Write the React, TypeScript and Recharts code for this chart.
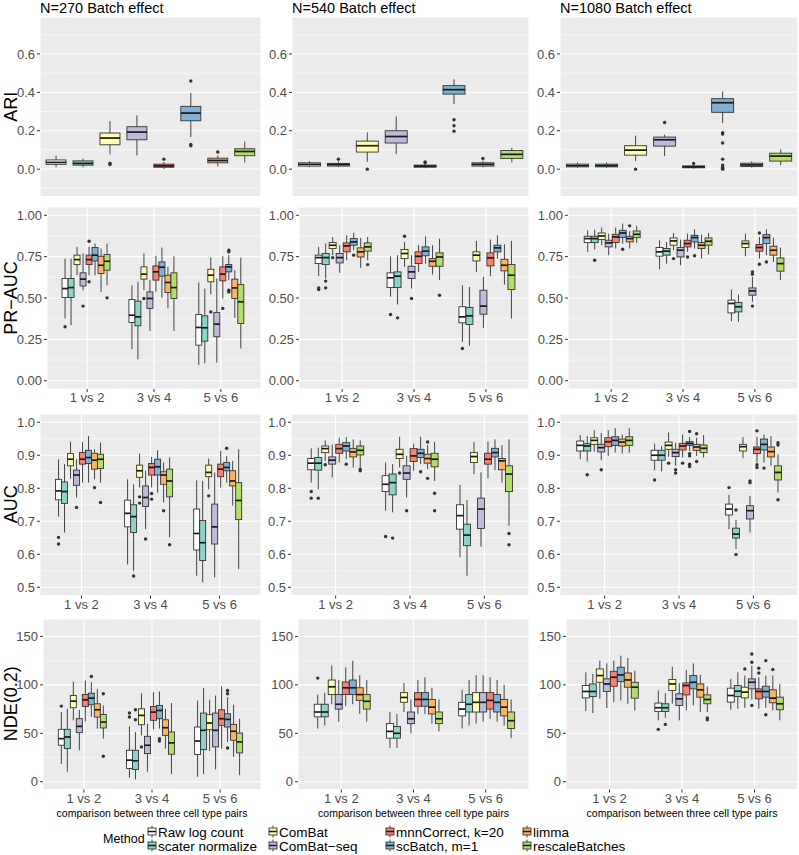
import React from 'react';
import { ComposedChart, Bar, XAxis, YAxis, CartesianGrid } from 'recharts';

type Box = [number, number, number, number, number, number[]];

const FONT = '"Liberation Sans", Arial, Helvetica, sans-serif';

const METHODS = ['Raw log count', 'scater normalize', 'ComBat', 'ComBat\u2212seq', 'mnnCorrect, k=20', 'scBatch, m=1', 'limma', 'rescaleBatches'];
const COLORS = ['#FFFFFF', '#8DD3C7', '#FFFFB3', '#BEBADA', '#FB8072', '#80B1D3', '#FDB462', '#B3DE69'];
const PAIRS = ['1 vs 2', '3 vs 4', '5 vs 6'];
const COLUMN_TITLES = ['N=270 Batch effect', 'N=540 Batch effect', 'N=1080 Batch effect'];
const X_TITLE = 'comparison between three cell type pairs';
const LEGEND_TITLE = 'Method';

const ARI_TICKS = [0, 0.2, 0.4, 0.6];
const ARI_TICK_LABELS = ['0.0', '0.2', '0.4', '0.6'];
const ARI_MINOR = [-0.1, 0.1, 0.3, 0.5, 0.7];
const PRAUC_TICKS = [0, 0.25, 0.5, 0.75, 1];
const PRAUC_TICK_LABELS = ['0.00', '0.25', '0.50', '0.75', '1.00'];
const PRAUC_MINOR = [0.125, 0.375, 0.625, 0.875];
const AUC_TICKS = [0.5, 0.6, 0.7, 0.8, 0.9, 1.0];
const AUC_TICK_LABELS = ['0.5', '0.6', '0.7', '0.8', '0.9', '1.0'];
const AUC_MINOR = [0.55, 0.65, 0.75, 0.85, 0.95];
const NDE_TICKS = [0, 50, 100, 150];
const NDE_TICK_LABELS = ['0', '50', '100', '150'];
const NDE_MINOR = [25, 75, 125];

// [lower whisker, Q1, median, Q3, upper whisker, outliers]
const ARI_270: Box[] = [
  [0.01, 0.025, 0.035, 0.048, 0.07, []],
  [0.01, 0.021, 0.03, 0.043, 0.055, []],
  [0.077, 0.127, 0.162, 0.188, 0.25, [0.031, 0.024]],
  [0.071, 0.153, 0.193, 0.221, 0.28, []],
  [0.0, 0.01, 0.017, 0.026, 0.037, [0.052]],
  [0.167, 0.252, 0.292, 0.327, 0.397, [0.459, 0.129, 0.122]],
  [0.014, 0.033, 0.045, 0.057, 0.071, [0.089]],
  [0.035, 0.07, 0.092, 0.106, 0.144, []],
];
const ARI_540: Box[] = [
  [0.01, 0.016, 0.025, 0.033, 0.042, []],
  [0.012, 0.016, 0.024, 0.03, 0.04, [0.052]],
  [0.038, 0.089, 0.122, 0.146, 0.191, [0.0]],
  [0.078, 0.136, 0.17, 0.2, 0.275, []],
  [0.005, 0.01, 0.016, 0.021, 0.03, [0.038, 0.033]],
  [0.339, 0.391, 0.414, 0.435, 0.468, [0.257, 0.226, 0.198]],
  [0.01, 0.016, 0.025, 0.033, 0.045, [0.056]],
  [0.035, 0.056, 0.077, 0.097, 0.111, []],
];
const ARI_1080: Box[] = [
  [0.008, 0.012, 0.018, 0.026, 0.035, []],
  [0.008, 0.012, 0.018, 0.026, 0.035, []],
  [0.042, 0.073, 0.099, 0.122, 0.174, [0.0]],
  [0.068, 0.12, 0.153, 0.167, 0.18, [0.243]],
  [0.003, 0.007, 0.012, 0.017, 0.022, [0.03]],
  [0.24, 0.296, 0.346, 0.367, 0.405, [0.19, 0.183, 0.136, 0.052, 0.021, 0.01, 0.003, 0.0]],
  [0.008, 0.014, 0.022, 0.031, 0.04, []],
  [0.021, 0.042, 0.068, 0.083, 0.104, []],
];

const PRAUC_270: Box[][] = [
  [
    [0.376, 0.503, 0.557, 0.618, 0.738, [0.326]],
    [0.336, 0.503, 0.563, 0.618, 0.738, []],
    [0.638, 0.702, 0.732, 0.759, 0.809, []],
    [0.547, 0.573, 0.614, 0.652, 0.769, [0.451]],
    [0.638, 0.702, 0.732, 0.759, 0.809, [0.843, 0.598]],
    [0.638, 0.724, 0.759, 0.805, 0.829, []],
    [0.537, 0.648, 0.698, 0.752, 0.799, []],
    [0.577, 0.668, 0.722, 0.763, 0.829, [0.501]],
  ],
  [
    [0.191, 0.352, 0.396, 0.491, 0.577, []],
    [0.129, 0.332, 0.386, 0.481, 0.598, []],
    [0.547, 0.614, 0.644, 0.688, 0.769, [0.497]],
    [0.3, 0.437, 0.497, 0.537, 0.608, []],
    [0.537, 0.608, 0.658, 0.694, 0.755, []],
    [0.501, 0.632, 0.686, 0.718, 0.805, []],
    [0.437, 0.533, 0.594, 0.638, 0.688, []],
    [0.3, 0.497, 0.563, 0.652, 0.752, []],
  ],
  [
    [0.095, 0.215, 0.322, 0.4, 0.594, []],
    [0.105, 0.239, 0.32, 0.392, 0.557, []],
    [0.523, 0.598, 0.638, 0.674, 0.744, [0.416]],
    [0.109, 0.266, 0.342, 0.412, 0.618, []],
    [0.497, 0.604, 0.644, 0.688, 0.752, [0.437]],
    [0.608, 0.658, 0.688, 0.702, 0.759, [0.789, 0.779, 0.547, 0.537]],
    [0.38, 0.497, 0.561, 0.614, 0.668, []],
    [0.195, 0.346, 0.477, 0.581, 0.744, []],
  ],
];
const PRAUC_540: Box[][] = [
  [
    [0.632, 0.708, 0.744, 0.759, 0.809, [0.561, 0.551]],
    [0.618, 0.702, 0.744, 0.769, 0.829, [0.602, 0.561]],
    [0.759, 0.799, 0.819, 0.835, 0.869, [0.744]],
    [0.652, 0.712, 0.744, 0.769, 0.819, []],
    [0.728, 0.779, 0.815, 0.833, 0.879, []],
    [0.789, 0.819, 0.839, 0.859, 0.895, [0.759]],
    [0.682, 0.748, 0.779, 0.803, 0.863, []],
    [0.728, 0.783, 0.809, 0.833, 0.869, [0.702]],
  ],
  [
    [0.507, 0.563, 0.622, 0.652, 0.752, [0.4]],
    [0.461, 0.563, 0.632, 0.658, 0.759, [0.38]],
    [0.688, 0.738, 0.769, 0.793, 0.839, [0.873]],
    [0.557, 0.618, 0.658, 0.692, 0.759, [0.497]],
    [0.658, 0.708, 0.752, 0.779, 0.819, []],
    [0.708, 0.755, 0.783, 0.809, 0.873, []],
    [0.642, 0.692, 0.722, 0.738, 0.819, []],
    [0.608, 0.692, 0.748, 0.773, 0.859, [0.517]],
  ],
  [
    [0.235, 0.35, 0.386, 0.447, 0.577, [0.195]],
    [0.211, 0.34, 0.392, 0.443, 0.567, []],
    [0.658, 0.724, 0.759, 0.779, 0.845, []],
    [0.32, 0.402, 0.451, 0.547, 0.628, []],
    [0.632, 0.694, 0.742, 0.773, 0.853, []],
    [0.738, 0.779, 0.803, 0.819, 0.879, []],
    [0.581, 0.664, 0.698, 0.734, 0.825, []],
    [0.376, 0.551, 0.638, 0.702, 0.845, []],
  ],
];
const PRAUC_1080: Box[][] = [
  [
    [0.779, 0.835, 0.859, 0.873, 0.909, []],
    [0.793, 0.835, 0.859, 0.873, 0.913, [0.728]],
    [0.819, 0.853, 0.875, 0.893, 0.926, []],
    [0.759, 0.809, 0.833, 0.849, 0.889, []],
    [0.799, 0.835, 0.869, 0.885, 0.926, []],
    [0.829, 0.865, 0.893, 0.909, 0.95, [0.795]],
    [0.799, 0.839, 0.859, 0.873, 0.905, [0.936]],
    [0.833, 0.865, 0.885, 0.905, 0.936, []],
  ],
  [
    [0.674, 0.753, 0.779, 0.805, 0.849, []],
    [0.708, 0.759, 0.783, 0.799, 0.839, []],
    [0.789, 0.819, 0.845, 0.863, 0.893, [0.738]],
    [0.698, 0.748, 0.789, 0.805, 0.853, []],
    [0.779, 0.809, 0.829, 0.849, 0.889, [0.748]],
    [0.799, 0.839, 0.865, 0.879, 0.915, [0.755]],
    [0.738, 0.799, 0.819, 0.835, 0.883, []],
    [0.763, 0.819, 0.843, 0.863, 0.893, []],
  ],
  [
    [0.36, 0.41, 0.467, 0.487, 0.551, []],
    [0.356, 0.416, 0.447, 0.473, 0.521, []],
    [0.752, 0.805, 0.829, 0.845, 0.889, []],
    [0.477, 0.517, 0.543, 0.561, 0.628, [0.658, 0.644, 0.451]],
    [0.738, 0.783, 0.805, 0.823, 0.869, [0.893, 0.704]],
    [0.759, 0.829, 0.865, 0.883, 0.915, [0.718]],
    [0.718, 0.759, 0.789, 0.813, 0.865, []],
    [0.608, 0.662, 0.708, 0.742, 0.805, []],
  ],
];

const AUC_270: Box[][] = [
  [
    [0.714, 0.765, 0.792, 0.827, 0.888, [0.651, 0.631]],
    [0.666, 0.754, 0.79, 0.819, 0.873, []],
    [0.829, 0.868, 0.888, 0.905, 0.941, []],
    [0.772, 0.809, 0.84, 0.855, 0.888, [0.742]],
    [0.817, 0.873, 0.888, 0.908, 0.94, []],
    [0.817, 0.875, 0.893, 0.915, 0.958, []],
    [0.827, 0.858, 0.885, 0.906, 0.918, [0.802]],
    [0.817, 0.86, 0.888, 0.903, 0.938, [0.757]],
  ],
  [
    [0.569, 0.683, 0.724, 0.764, 0.827, []],
    [0.55, 0.666, 0.714, 0.75, 0.812, [0.534]],
    [0.802, 0.833, 0.853, 0.87, 0.905, [0.774, 0.755]],
    [0.676, 0.745, 0.772, 0.807, 0.853, [0.646]],
    [0.802, 0.84, 0.863, 0.875, 0.895, [0.784, 0.767]],
    [0.787, 0.84, 0.865, 0.888, 0.915, []],
    [0.757, 0.812, 0.84, 0.85, 0.878, [0.732]],
    [0.651, 0.774, 0.822, 0.858, 0.893, [0.629]],
  ],
  [
    [0.535, 0.613, 0.663, 0.737, 0.824, []],
    [0.515, 0.581, 0.635, 0.702, 0.822, []],
    [0.797, 0.835, 0.848, 0.87, 0.89, [0.777]],
    [0.53, 0.631, 0.683, 0.752, 0.848, []],
    [0.802, 0.835, 0.858, 0.873, 0.913, []],
    [0.817, 0.853, 0.863, 0.878, 0.898, [0.921]],
    [0.747, 0.807, 0.822, 0.853, 0.883, []],
    [0.555, 0.705, 0.763, 0.817, 0.918, []],
  ],
];
const AUC_540: Box[][] = [
  [
    [0.817, 0.856, 0.876, 0.89, 0.921, [0.79, 0.77]],
    [0.797, 0.855, 0.876, 0.893, 0.923, [0.77]],
    [0.883, 0.908, 0.92, 0.928, 0.945, [0.871]],
    [0.833, 0.873, 0.885, 0.895, 0.933, []],
    [0.878, 0.906, 0.92, 0.933, 0.953, []],
    [0.888, 0.913, 0.928, 0.938, 0.955, [0.873]],
    [0.863, 0.895, 0.91, 0.92, 0.948, []],
    [0.863, 0.901, 0.915, 0.928, 0.945, [0.858, 0.853]],
  ],
  [
    [0.732, 0.79, 0.812, 0.838, 0.878, [0.654]],
    [0.727, 0.78, 0.817, 0.843, 0.873, [0.649]],
    [0.863, 0.89, 0.903, 0.918, 0.956, [0.846]],
    [0.772, 0.827, 0.846, 0.868, 0.898, [0.732]],
    [0.853, 0.881, 0.898, 0.92, 0.935, []],
    [0.873, 0.893, 0.906, 0.918, 0.956, [0.85]],
    [0.858, 0.876, 0.89, 0.903, 0.931, [0.94, 0.83]],
    [0.822, 0.865, 0.888, 0.906, 0.94, [0.785, 0.732]],
  ],
  [
    [0.591, 0.676, 0.717, 0.75, 0.81, []],
    [0.535, 0.626, 0.658, 0.691, 0.764, []],
    [0.843, 0.878, 0.896, 0.908, 0.94, []],
    [0.623, 0.678, 0.737, 0.77, 0.848, []],
    [0.83, 0.873, 0.888, 0.906, 0.941, []],
    [0.855, 0.895, 0.908, 0.921, 0.948, []],
    [0.817, 0.856, 0.883, 0.89, 0.931, []],
    [0.686, 0.79, 0.843, 0.868, 0.948, [0.663, 0.629]],
  ],
];
const AUC_1080: Box[][] = [
  [
    [0.888, 0.913, 0.93, 0.943, 0.961, []],
    [0.881, 0.913, 0.928, 0.935, 0.958, [0.841]],
    [0.911, 0.933, 0.945, 0.953, 0.976, []],
    [0.885, 0.91, 0.923, 0.933, 0.967, [0.856]],
    [0.898, 0.926, 0.941, 0.953, 0.976, []],
    [0.908, 0.93, 0.945, 0.956, 0.982, []],
    [0.905, 0.928, 0.94, 0.949, 0.963, []],
    [0.908, 0.93, 0.945, 0.956, 0.982, []],
  ],
  [
    [0.855, 0.885, 0.9, 0.915, 0.935, [0.825]],
    [0.851, 0.885, 0.9, 0.915, 0.928, []],
    [0.895, 0.918, 0.93, 0.94, 0.969, [0.876]],
    [0.868, 0.896, 0.908, 0.918, 0.938, [0.856, 0.846]],
    [0.893, 0.916, 0.928, 0.936, 0.963, [0.876]],
    [0.913, 0.93, 0.936, 0.941, 0.955, [0.972, 0.905, 0.898, 0.873, 0.866]],
    [0.898, 0.915, 0.925, 0.933, 0.953, [0.965, 0.881]],
    [0.893, 0.908, 0.921, 0.931, 0.961, []],
  ],
  [
    [0.676, 0.719, 0.737, 0.752, 0.78, [0.802]],
    [0.616, 0.649, 0.661, 0.679, 0.704, [0.734, 0.599]],
    [0.891, 0.913, 0.926, 0.933, 0.955, []],
    [0.666, 0.707, 0.732, 0.747, 0.777, [0.822, 0.817]],
    [0.878, 0.905, 0.918, 0.925, 0.955, [0.974, 0.871, 0.863]],
    [0.878, 0.916, 0.933, 0.949, 0.963, [0.861]],
    [0.868, 0.895, 0.911, 0.925, 0.958, []],
    [0.787, 0.825, 0.848, 0.868, 0.903, [0.938, 0.931, 0.765]],
  ],
];

const NDE_270: Box[][] = [
  [
    [18.2, 37.7, 44.5, 54.1, 71.9, [78.1]],
    [10.3, 34.2, 46.2, 54.1, 75.3, []],
    [63.4, 76.4, 83.2, 89, 103.4, []],
    [32.5, 50.7, 57.2, 65.1, 74.3, []],
    [62.3, 77.7, 84.6, 90.1, 104.5, []],
    [66.8, 79.5, 86.3, 91.4, 102.7, [108.6]],
    [54.8, 66.8, 74.3, 80.5, 95.9, []],
    [44.5, 55.5, 61.6, 69.5, 78.8, [90.8, 26.4]],
  ],
  [
    [4.1, 13.7, 22.3, 32.5, 57.2, [70.9, 66.8]],
    [2.4, 12.7, 21.6, 32.5, 51.4, [74.3, 64]],
    [47.9, 58.9, 68.5, 75.3, 91.4, [36]],
    [10.3, 29.1, 37.7, 46.9, 59.9, []],
    [53.8, 63.4, 71.9, 77.7, 92.5, []],
    [54.8, 65.1, 73.6, 78.8, 93.2, [44.5, 42.1]],
    [34.2, 47.9, 55.8, 64, 75.3, []],
    [7.9, 28.4, 40.1, 51.4, 81.2, []],
  ],
  [
    [5.1, 28.1, 42.1, 56.5, 83.9, []],
    [7.9, 33.2, 53.1, 70.9, 96.6, []],
    [31.8, 53.8, 60.6, 69.2, 84.6, []],
    [12.7, 36, 53.1, 70.9, 89, []],
    [34.2, 58.2, 65.1, 74.3, 98.3, []],
    [41.1, 56.5, 64.4, 70.2, 87.3, [94.2, 90.8, 34.9]],
    [25.7, 42.8, 52.1, 59.2, 79.5, []],
    [6.8, 29.8, 41.1, 50.3, 65.1, []],
  ],
];
const NDE_540: Box[][] = [
  [
    [55, 67, 72, 80, 90, [107]],
    [58, 67, 72, 80, 92, []],
    [80, 90, 98, 105, 120, []],
    [62, 75, 80, 90, 105, []],
    [78, 90, 97, 103, 118, []],
    [80, 90, 97, 105, 125, []],
    [70, 84, 90, 97, 110, []],
    [62, 75, 83, 90, 105, []],
  ],
  [
    [35, 45, 52, 60, 72, []],
    [35, 45, 50, 57, 70, []],
    [72, 82, 87, 92, 102, []],
    [50, 60, 65, 72, 85, []],
    [70, 78, 85, 92, 105, []],
    [70, 78, 85, 92, 108, []],
    [60, 70, 77, 85, 97, []],
    [52, 60, 65, 72, 85, []],
  ],
  [
    [55, 68, 75, 82, 95, []],
    [58, 72, 80, 90, 105, []],
    [60, 72, 82, 92, 110, []],
    [62, 72, 82, 92, 110, []],
    [65, 75, 84, 92, 108, []],
    [62, 72, 82, 90, 105, []],
    [58, 68, 77, 85, 100, []],
    [45, 55, 63, 72, 85, []],
  ],
];
const NDE_1080: Box[][] = [
  [
    [72.9, 86.6, 93.2, 99.3, 113, []],
    [70.9, 88, 93.2, 101, 111.3, []],
    [85.6, 102.7, 109.6, 116.4, 125, []],
    [76, 93.2, 101, 106.2, 122.3, []],
    [82.2, 98.6, 107.9, 114, 125, []],
    [83.9, 103.4, 110.3, 118.2, 130.1, []],
    [80.5, 97.6, 105.1, 112.3, 127.7, []],
    [73.6, 86.3, 97.6, 102.7, 114.7, []],
  ],
  [
    [63.4, 72.6, 76.4, 81.2, 94.2, [54.1]],
    [66.1, 72.6, 76.4, 80.5, 91.4, [59.2]],
    [80.5, 94.2, 101, 105.5, 118.8, []],
    [63.4, 78.8, 85.6, 90.8, 101.7, []],
    [73.6, 89.7, 99.3, 102, 115.4, []],
    [78.8, 95.9, 102.7, 109.6, 122.3, []],
    [71.9, 87.3, 94.9, 101, 110.3, []],
    [71.9, 80.5, 84.9, 89.7, 98.3, [65.8, 64]],
  ],
  [
    [74.3, 82.2, 89, 96.6, 106.2, []],
    [75.3, 88, 93.5, 99.3, 113, []],
    [76.4, 86.6, 92.5, 97.6, 109.6, [116.4]],
    [84.9, 95.9, 102.7, 106.2, 119.9, [131.8, 123.3, 78.8]],
    [75.3, 85.6, 93.2, 95.9, 107.9, [117.1, 112.3]],
    [76.4, 87.3, 93.2, 98.6, 109.6, [125, 69.2]],
    [73.6, 81.5, 86.3, 94.9, 109.6, [115.8]],
    [63.4, 74.3, 80.5, 87.3, 101, []],
  ],
];

// ---------- layout ----------
const YW = 44;
const TP = 12;
const RIGHTS = [261, 529, 798];

type RowCfg = {
  title: string;
  top: number;
  bottom: number;
  lefts: number[];
  domain: [number, number];
  ticks: number[];
  tickLabels: string[];
  minor: number[];
  showX: boolean;
};

const ROWS: RowCfg[] = [
  { title: 'ARI', top: 17, bottom: 196.5, lefts: [40, 292, 560], domain: [-0.1425, 0.7925], ticks: ARI_TICKS, tickLabels: ARI_TICK_LABELS, minor: ARI_MINOR, showX: false },
  { title: 'PR\u2212AUC', top: 207, bottom: 389, lefts: [47, 299, 568], domain: [-0.05, 1.05], ticks: PRAUC_TICKS, tickLabels: PRAUC_TICK_LABELS, minor: PRAUC_MINOR, showX: true },
  { title: 'AUC', top: 413.5, bottom: 595, lefts: [40, 291, 560], domain: [0.475, 1.025], ticks: AUC_TICKS, tickLabels: AUC_TICK_LABELS, minor: AUC_MINOR, showX: true },
  { title: 'NDE(0.2)', top: 618.5, bottom: 789, lefts: [43, 298, 566], domain: [-8, 168], ticks: NDE_TICKS, tickLabels: NDE_TICK_LABELS, minor: NDE_MINOR, showX: true },
];

const ARI_DATA = [ARI_270, ARI_540, ARI_1080];
const PAIR_DATA = [
  [PRAUC_270, PRAUC_540, PRAUC_1080],
  [AUC_270, AUC_540, AUC_1080],
  [NDE_270, NDE_540, NDE_1080],
];

function methodTable(boxes: Box[]) {
  return METHODS.map((m, i) => ({ method: m, range: [boxes[i][0], boxes[i][4]], box: boxes[i], color: COLORS[i] }));
}

function pairTable(groups: Box[][]) {
  return PAIRS.map((p, j) => {
    const row: any = { pair: p };
    groups[j].forEach((b, i) => {
      row['m' + i] = [b[0], b[4]];
      row['b' + i] = b;
    });
    return row;
  });
}

function BoxGlyph(props: any) {
  const { x, y, width, height, box, color } = props;
  if (!box || !isFinite(x) || !isFinite(y) || !isFinite(height)) return null;
  const [lo, q1, med, q3, hi, outs] = box as Box;
  const top = Math.min(y, y + height);
  const h = Math.abs(height);
  const py = (v: number) => top + ((hi - v) / (hi - lo)) * h;
  const cx = x + width / 2;
  const by = py(q3);
  const bh = Math.max(py(q1) - by, 0.6);
  return (
    <g>
      <line x1={cx} x2={cx} y1={py(hi)} y2={py(q3)} stroke="#444" strokeWidth={1} />
      <line x1={cx} x2={cx} y1={py(q1)} y2={py(lo)} stroke="#444" strokeWidth={1} />
      <rect x={x} y={by} width={width} height={bh} fill={color} stroke="#333" strokeWidth={0.9} />
      <line x1={x} x2={x + width} y1={py(med)} y2={py(med)} stroke="#1a1a1a" strokeWidth={1.7} />
      {outs.map((o, k) => (
        <circle key={k} cx={cx} cy={py(o)} r={1.7} fill="#333" />
      ))}
    </g>
  );
}

function Panel({ row, col }: { row: number; col: number }) {
  const cfg = ROWS[row];
  const plotLeft = cfg.lefts[col];
  const plotRight = RIGHTS[col];
  const pw = plotRight - plotLeft;
  const ph = cfg.bottom - cfg.top;
  const XH = cfg.showX ? 20 : 2;
  const width = YW + pw;
  const height = TP + ph + XH;
  const nCats = row === 0 ? METHODS.length : PAIRS.length;
  const pad = (pw * (1 - nCats / (nCats + 0.2))) / 2;
  const data = row === 0 ? methodTable(ARI_DATA[col]) : pairTable(PAIR_DATA[row - 1][col]);
  const tickStyle = { fill: '#4D4D4D', fontSize: 13, fontFamily: FONT };
  const fmt = (v: number) => {
    const k = cfg.ticks.findIndex((t) => Math.abs(t - v) < 1e-9);
    return k >= 0 ? cfg.tickLabels[k] : String(v);
  };
  return (
    <div style={{ position: 'absolute', left: plotLeft - YW, top: cfg.top - TP, width, height }}>
      <ComposedChart
        width={width}
        height={height}
        data={data}
        margin={{ top: TP, right: 0, bottom: 0, left: 0 }}
        barCategoryGap="12.5%"
        barGap={0}
        style={{ overflow: 'visible' }}
      >
        <CartesianGrid fill="#EBEBEB" fillOpacity={1} stroke="#FFFFFF" strokeWidth={0.55} vertical={false} horizontalValues={cfg.minor} />
        <CartesianGrid fill="none" stroke="#FFFFFF" strokeWidth={1.1} horizontal vertical />
        <XAxis
          dataKey={row === 0 ? 'method' : 'pair'}
          type="category"
          interval={0}
          padding={{ left: pad, right: pad }}
          height={XH}
          axisLine={false}
          tickLine={cfg.showX ? { stroke: '#333' } : false}
          tickSize={3}
          tickMargin={1}
          tick={cfg.showX ? tickStyle : false}
        />
        <YAxis
          type="number"
          domain={cfg.domain}
          ticks={cfg.ticks}
          interval={0}
          width={YW}
          tickFormatter={fmt}
          axisLine={false}
          tickLine={{ stroke: '#333' }}
          tickSize={3}
          tickMargin={2}
          tick={tickStyle}
        />
        {row === 0 ? (
          <Bar
            dataKey="range"
            isAnimationActive={false}
            shape={(p: any) => <BoxGlyph {...p} box={p.payload.box} color={p.payload.color} />}
          />
        ) : (
          METHODS.map((m, i) => (
            <Bar
              key={m}
              dataKey={'m' + i}
              isAnimationActive={false}
              shape={(p: any) => <BoxGlyph {...p} box={p.payload['b' + i]} color={COLORS[i]} />}
            />
          ))
        )}
      </ComposedChart>
    </div>
  );
}

const LEGEND_COLS = [147, 268, 385, 522];
const LEGEND_ROWS = [831.5, 845.5];

function LegendKey({ x, y, color }: { x: number; y: number; color: string }) {
  return (
    <g>
      <line x1={x + 5} x2={x + 5} y1={y - 6} y2={y + 6} stroke="#444" strokeWidth={1} />
      <rect x={x + 1} y={y - 3.5} width={8} height={7} fill={color} stroke="#333" strokeWidth={0.9} />
      <line x1={x + 1} x2={x + 9} y1={y} y2={y} stroke="#1a1a1a" strokeWidth={1.5} />
    </g>
  );
}

export default function App() {
  const panels: React.ReactNode[] = [];
  ROWS.forEach((_, r) => {
    [0, 1, 2].forEach((c) => panels.push(<Panel key={r + '-' + c} row={r} col={c} />));
  });
  return (
    <div style={{ position: 'absolute', left: 0, top: 0, width: 799, height: 855, background: '#FFFFFF', fontFamily: FONT, overflow: 'hidden' }}>
      <svg width={799} height={855} style={{ position: 'absolute', left: 0, top: 0 }} fontFamily={FONT}>
        {COLUMN_TITLES.map((t, c) => (
          <text key={t} x={ROWS[0].lefts[c]} y={12.5} fontSize={14.5} fill="#000">
            {t}
          </text>
        ))}
        {ROWS.map((r) => {
          const cy = (r.top + r.bottom) / 2;
          return (
            <text key={r.title} x={0} y={0} fontSize={18} fill="#000" textAnchor="middle" transform={`translate(16.5,${cy}) rotate(-90)`}>
              {r.title}
            </text>
          );
        })}
        {[0, 1, 2].map((c) => (
          <text key={c} x={(ROWS[3].lefts[c] + RIGHTS[c]) / 2} y={816.5} fontSize={10.5} fill="#000" textAnchor="middle">
            {X_TITLE}
          </text>
        ))}
        <text x={103} y={842.5} fontSize={12.5} fill="#000">
          {LEGEND_TITLE}
        </text>
        {METHODS.map((m, i) => {
          const col = Math.floor(i / 2);
          const rowY = LEGEND_ROWS[i % 2];
          const kx = LEGEND_COLS[col];
          return (
            <g key={m}>
              <LegendKey x={kx} y={rowY} color={COLORS[i]} />
              <text x={kx + 11} y={rowY + 5} fontSize={13.5} fill="#000">
                {m}
              </text>
            </g>
          );
        })}
      </svg>
      {panels}
    </div>
  );
}
